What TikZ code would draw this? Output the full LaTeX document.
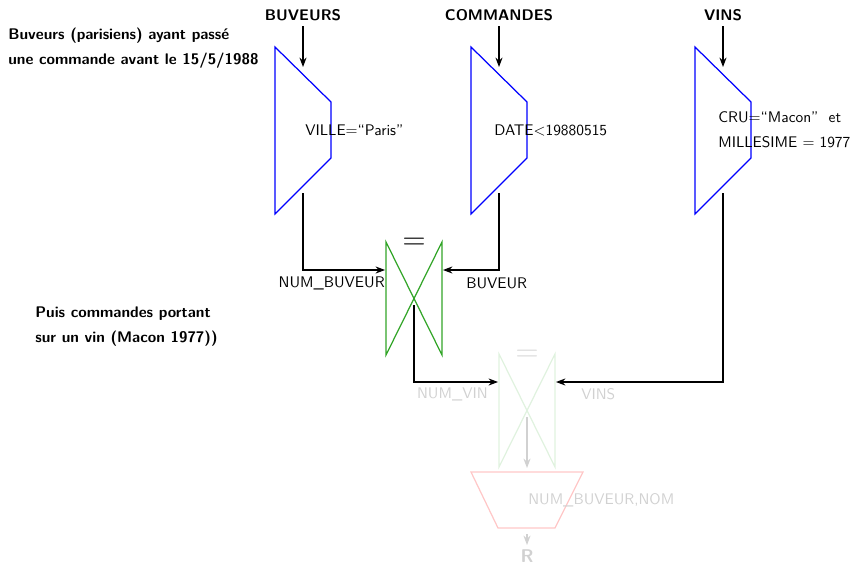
\documentclass[tikz,border=0pt]{standalone}
\usepackage{tikz}
\usetikzlibrary{arrows.meta}
\definecolor{joingreen}{RGB}{50,165,40}
\tikzset{
  selbox/.style={draw=blue, thick},
  joinbox/.style={draw=joingreen, thick},
  joinfaded/.style={draw=joingreen!15, thick},
  projfaded/.style={draw=red!22, thick},
  arrow/.style={->, >=Stealth, line width=0.7pt},
  fadedarrow/.style={->, >=Stealth, line width=0.7pt, black!18},
  relname/.style={font=\sffamily\bfseries},
  cond/.style={font=\sffamily, inner sep=0pt, anchor=west},
  attr/.style={font=\sffamily, inner sep=0pt},
  comment/.style={font=\sffamily\bfseries, align=left, inner sep=0pt, anchor=north west}
}
\begin{document}
\begin{tikzpicture}[x=0.65pt,y=-0.65pt]
\useasboundingbox (0,0) rectangle (864,567);
% selections
\foreach \n/\x in {buv/275,cmd/471,vin/695}{
\draw[selbox] (\x,47) -- (\x+56,102) -- (\x+56,158) -- (\x,214) -- cycle;
\coordinate (\n-in) at (\x+28,67);
\coordinate (\n-out) at (\x+28,193);}
\node[relname] (buveurs) at (303,15) {BUVEURS};
\node[relname] (commandes) at (499,15) {COMMANDES};
\node[relname] (vins) at (723,15) {VINS};
\draw[arrow] (buveurs.south) -- (buv-in);
\draw[arrow] (commandes.south) -- (cmd-in);
\draw[arrow] (vins.south) -- (vin-in);
\node[cond] (cond1) at (305,130) {VILLE$=$“Paris”};
\node[cond] (cond2) at (494,130) {DATE$<$19880515};
\node[cond, align=left] (cond3) at (718,130) {CRU$=$“Macon”\ \ et\\[4pt]MILLESIME $=$ 1977};
% first join
\draw[joinbox] (386,242) -- (386,355) -- (442,242) -- (442,355) -- cycle;
\node[attr, font=\huge] (eq1) at (414,244) {$=$};
\coordinate (j1-left) at (385,270);
\coordinate (j1-right) at (443,270);
\coordinate (j1-out) at (414,305);
\draw[arrow] (buv-out) |- (j1-left);
\draw[arrow] (cmd-out) |- (j1-right);
\node[attr, anchor=east] (a1) at (385,283) {NUM\_BUVEUR};
\node[attr, anchor=west] (a2) at (466,283) {BUVEUR};
% second join
\draw[joinfaded] (499,354) -- (499,467) -- (555,354) -- (555,467) -- cycle;
\node[attr, font=\huge, black!15] (eq2) at (527,356) {$=$};
\coordinate (j2-left) at (498,382);
\coordinate (j2-right) at (556,382);
\coordinate (j2-out) at (527,417);
\draw[arrow] (j1-out) |- (j2-left);
\draw[arrow] (vin-out) |- (j2-right);
\node[attr, anchor=east, black!18] (a3) at (488,394) {NUM\_VIN};
\node[attr, anchor=west, black!18] (a4) at (581,394) {VINS};
% projection
\draw[projfaded] (471,472) -- (583,472) -- (555,528) -- (498,528) -- cycle;
\coordinate (p-in) at (527,468);
\coordinate (p-out) at (527,534);
\coordinate (r-in) at (527,545);
\draw[fadedarrow] (j2-out) -- (p-in);
\node[cond, black!18] (proj) at (528,500) {NUM\_BUVEUR,NOM};
\draw[fadedarrow] (p-out) -- (r-in);
\node[relname, font=\sffamily\bfseries\large, black!18, inner sep=0pt] (res) at (527,556) {R};
% comments
\node[comment] (note1) at (8,28) {Buveurs (parisiens) ayant passé\\[4pt]une commande avant le 15/5/1988};
\node[comment] (note2) at (35,307) {Puis commandes portant\\[4pt]sur un vin (Macon 1977))};
\end{tikzpicture}
\end{document}
